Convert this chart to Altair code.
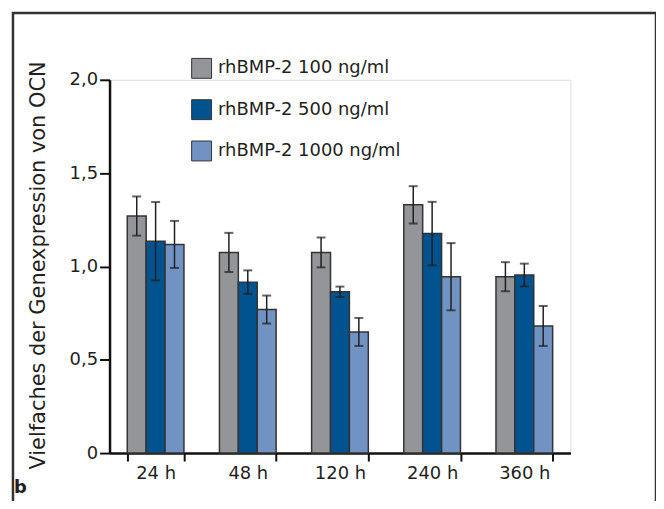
import altair as alt
import pandas as pd

times = ["24 h", "48 h", "120 h", "240 h", "360 h"]
series = ["rhBMP-2 100 ng/ml", "rhBMP-2 500 ng/ml", "rhBMP-2 1000 ng/ml"]
colors = ["#939598", "#00538f", "#7193c3"]

means100 = [1.27, 1.075, 1.075, 1.33, 0.945]
err100 = [0.105, 0.105, 0.08, 0.10, 0.078]
means500 = [1.135, 0.916, 0.864, 1.176, 0.954]
err500 = [0.21, 0.063, 0.028, 0.17, 0.061]
means1000 = [1.118, 0.769, 0.649, 0.945, 0.681]
err1000 = [0.126, 0.075, 0.075, 0.18, 0.107]

rows = []
for s, m, e in zip(series, [means100, means500, means1000], [err100, err500, err1000]):
    for t, mv, ev in zip(times, m, e):
        rows.append({"time": t, "series": s, "mean": mv, "lo": mv - ev, "hi": mv + ev})
df = pd.DataFrame(rows)

FONT = "DejaVu Sans"
TXT = "#231f20"

xenc = alt.X(
    "time:N", sort=times,
    scale=alt.Scale(paddingInner=0.385, paddingOuter=0.1925),
    axis=alt.Axis(title=None, tickBand="extent", tickSize=8, tickWidth=2, tickColor="#111",
                  domainColor="#111", domainWidth=2.5, labelFontSize=18, labelPadding=4,
                  labelColor=TXT, labelAngle=0, labelFont=FONT),
)
xoff = alt.XOffset("series:N", sort=series, scale=alt.Scale(paddingInner=0, paddingOuter=0))

base = alt.Chart(df).encode(x=xenc, xOffset=xoff)

bars = base.mark_bar(stroke="#333", strokeWidth=1.5).encode(
    y=alt.Y("mean:Q", scale=alt.Scale(domain=[0, 2], nice=False),
            axis=alt.Axis(values=[0, 0.5, 1, 1.5, 2], grid=False, tickSize=10, tickWidth=2,
                          tickColor="#111", domainColor="#111", domainWidth=2.5,
                          labelFontSize=18, labelPadding=2, labelColor=TXT, labelFont=FONT,
                          labelExpr="datum.value == 0 ? '0' : replace(format(datum.value, '.1f'), '.', ',')",
                          title="Vielfaches der Genexpression von OCN", titleFont=FONT,
                          titleFontSize=21, titleFontWeight="normal", titleColor=TXT,
                          titleX=-71, titleY=186, titleAlign="center", titleBaseline="middle",
                          titleAngle=-90)),
    fill=alt.Fill("series:N", sort=series, scale=alt.Scale(domain=series, range=colors),
                  legend=alt.Legend(title=None, orient="none", legendX=82, legendY=-22,
                                    symbolType="square", symbolSize=400, symbolStrokeColor="#333",
                                    symbolStrokeWidth=1, symbolOpacity=1, labelFontSize=18,
                                    labelFont=FONT, labelColor=TXT, labelOffset=6,
                                    labelLimit=0, rowPadding=16.5)),
)

rules = base.mark_rule(color="#231f20", strokeWidth=1.5).encode(y="lo:Q", y2="hi:Q")
caps_lo = base.mark_tick(color="#231f20", size=9, thickness=2).encode(y="lo:Q")
caps_hi = base.mark_tick(color="#231f20", size=9, thickness=2).encode(y="hi:Q")

deco = pd.DataFrame({"label": ["b"]})
frame = alt.Chart(deco).mark_rect(fillOpacity=0, stroke="#333", strokeWidth=2.5).encode(
    x=alt.value(-97), x2=alt.value(549), y=alt.value(-67), y2=alt.value(600))
letter = alt.Chart(deco).mark_text(font=FONT, fontSize=18, fontWeight="bold", color=TXT,
                                   align="left", baseline="alphabetic").encode(
    x=alt.value(-96), y=alt.value(415), text="label:N")

chart = alt.layer(frame, bars, rules, caps_lo, caps_hi, letter).properties(
    width=463, height=375,
    autosize=alt.AutoSizeParams(type="none"),
    padding={"left": 102, "top": 71, "right": 86, "bottom": 47},
).configure_view(strokeWidth=0).configure(background="white")

chart.save("out.html", embed_options={"renderer": "svg", "actions": False})
